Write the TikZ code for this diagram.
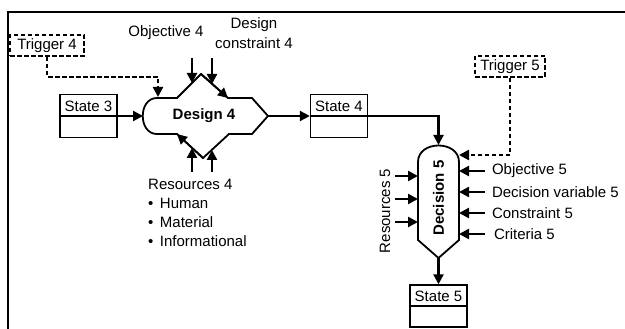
\documentclass[tikz,border=0pt]{standalone}
\usepackage{fontspec}
\setmainfont{Liberation Sans}
\usetikzlibrary{arrows.meta,positioning}

\begin{document}
\begin{tikzpicture}[x=1pt,y=-1pt,
  txt/.style={font=\fontsize{15}{20}\selectfont,inner sep=0pt},
  boldtxt/.style={font=\fontsize{15}{20}\selectfont\bfseries,inner sep=0pt},
  statebox/.style={draw,line width=1.4pt,minimum width=57pt,minimum height=43pt,inner sep=0pt},
  trigbox/.style={txt,draw,line width=2pt,dash pattern=on 4.5pt off 2.5pt,minimum height=21pt},
  outline/.style={line width=1.8pt,line join=miter},
  arr/.style={line width=2.3pt,-{Triangle[length=10pt,width=10pt]}},
  trig/.style={arr,dash pattern=on 4.5pt off 2.5pt},
  inlabel/.style={txt,anchor=west,outer sep=7pt}]
\useasboundingbox (0,0) rectangle (625,329);

% Frame
\draw[line width=1.6pt] (625,12) -- (8,12) -- (8,329);

% States
\node[statebox] (s3) at (88.5,116) {};
\draw[line width=1.4pt] (s3.west) -- (s3.east);
\node[txt,below=7pt of s3.north] (s3lbl) {State 3};

\node[statebox] (s4) at (339,116) {};
\draw[line width=1.4pt] (s4.west) -- (s4.east);
\node[txt,below=7pt of s4.north] (s4lbl) {State 4};

\node[statebox,minimum height=42pt] (s5) at (438.5,306) {};
\draw[line width=1.4pt] (s5.west) -- (s5.east);
\node[txt,below=7pt of s5.north] (s5lbl) {State 5};

% Triggers
\node[trigbox,minimum width=74pt] (t4) at (47,45.5) {Trigger 4};
\node[trigbox,minimum width=70pt] (t5) at (510,66.5) {Trigger 5};

% Design 4 outline
\coordinate (d4w) at (143,116);
\coordinate (d4n) at (201,74);
\coordinate (d4ne) at (228,98);
\coordinate (d4e) at (268,116);
\coordinate (d4s) at (203,158);
\coordinate (d4sw) at (177,134);
\coordinate (d4nw) at (158,97);
\draw[outline] (157,98) -- (177,98) -- (d4n) -- (d4ne) -- (252,98) -- (d4e)
  -- (252,134) -- (229,134) -- (d4s) -- (d4sw) -- (157,134)
  .. controls (138,134) and (138,98) .. (157,98) -- cycle;
\draw[arr,line width=1.8pt] (d4n) -- (d4ne);
\draw[arr,line width=1.8pt] (d4s) -- (d4sw);
\node[boldtxt] (d4) at (204,116) {Design 4};

% Decision 5 outline
\coordinate (d5n) at (438.5,145);
\coordinate (d5s) at (438.5,258);
\coordinate (d5tr) at (459,155);
\draw[outline] (418,240) -- (418,162) .. controls (418,140) and (459,140) .. (459,162)
  -- (459,240) -- (d5s) -- cycle;
\node[boldtxt,rotate=90] (d5) at (438.5,198) {Decision 5};

% Flow
\draw[arr] (s3.east) -- (d4w);
\draw[arr] (d4e) -- (s4.west);
\draw[arr] (s4.east) -| (d5n);
\draw[arr] (d5s) -- (s5.north);

% Trigger links
\coordinate (t4bend) at (158,77);
\draw[trig] (t4.south) |- (t4bend) -- (d4nw);
\draw[trig] (t5.south) |- (d5tr);

% Design 4 inputs
\node[txt] (obj4) at (166,33) {Objective 4};
\node[txt,align=center] (con4) at (254,33) {Design\\constraint 4};
\coordinate (obj4src) at (192,58);
\coordinate (obj4in) at (192,83);
\coordinate (con4src) at (212,58);
\coordinate (con4in) at (212,84);
\draw[arr] (obj4src) -- (obj4in);
\draw[arr] (con4src) -- (con4in);

\coordinate (res4a) at (192,172);
\coordinate (res4ain) at (192,148);
\coordinate (res4b) at (212,172);
\coordinate (res4bin) at (212,150);
\draw[arr] (res4a) -- (res4ain);
\draw[arr] (res4b) -- (res4bin);

\node[txt,anchor=west] (res4) at (148,184) {Resources 4};
\node[txt,anchor=west] (res4h) at (148,203) {\textbullet\hspace{6.5pt}Human};
\node[txt,anchor=west] (res4m) at (148,222) {\textbullet\hspace{6.5pt}Material};
\node[txt,anchor=west] (res4i) at (148,241) {\textbullet\hspace{6.5pt}Informational};

% Decision 5 inputs
\node[txt,rotate=90] (res5) at (385,211) {Resources 5};
\coordinate (r5a) at (395,176);
\coordinate (r5ain) at (418,176);
\coordinate (r5b) at (395,199);
\coordinate (r5bin) at (418,199);
\coordinate (r5c) at (395,222);
\coordinate (r5cin) at (418,222);
\draw[arr] (r5a) -- (r5ain);
\draw[arr] (r5b) -- (r5bin);
\draw[arr] (r5c) -- (r5cin);

\node[inlabel] (obj5) at (485,171) {Objective 5};
\node[inlabel] (var5) at (485,192) {Decision variable 5};
\node[inlabel] (con5) at (485,213) {Constraint 5};
\node[inlabel] (cri5) at (487,234) {Criteria 5};
\coordinate (obj5in) at (459,171);
\coordinate (var5in) at (459,192);
\coordinate (con5in) at (459,213);
\coordinate (cri5in) at (459,234);
\draw[arr] (obj5.west) -- (obj5in);
\draw[arr] (var5.west) -- (var5in);
\draw[arr] (con5.west) -- (con5in);
\draw[arr] ([xshift=-2pt]cri5.west) -- (cri5in);
\end{tikzpicture}
\end{document}
